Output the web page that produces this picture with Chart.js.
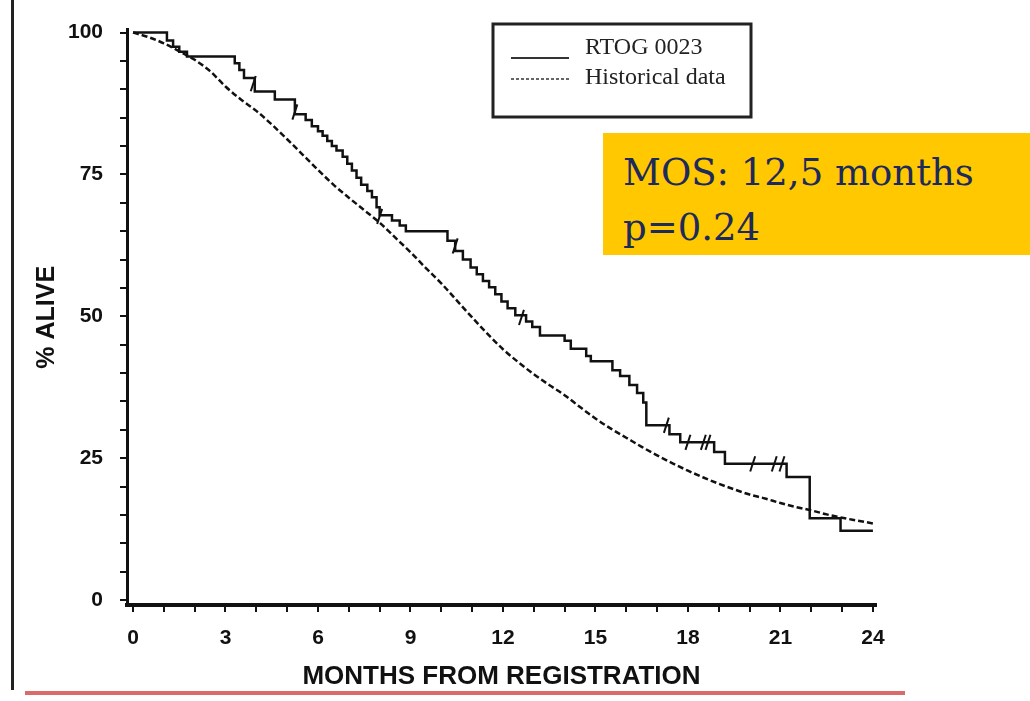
<!DOCTYPE html>
<html>
<head>
<meta charset="utf-8">
<script src="https://cdn.jsdelivr.net/npm/chart.js@4.4.1/dist/chart.umd.min.js"></script>
<style>
body { margin: 0; background: #fff; }
#wrap { position: relative; width: 1030px; height: 701px; }
#mos { position: absolute; left: 603px; top: 133px; width: 427px; height: 122px; background: #ffc800; color: #1d2a5c;
  font-family: "DejaVu Serif", serif; font-size: 37px; line-height: 55px; padding: 12px 0 0 20px; box-sizing: border-box; }
</style>
</head>
<body>
<div id="wrap">
<canvas id="km-chart" width="1030" height="701"></canvas>
<div id="mos">MOS: 12,5 months<br>p=0.24</div>
</div>
<script>
// RTOG 0023 Kaplan-Meier steps (month of drop, % alive after drop)
const rtogMonths = [0, 1.1, 1.3, 1.5, 1.75, 3.3, 3.45, 3.6, 3.95, 4.6, 5.25, 5.6, 5.8, 6.0, 6.15, 6.3, 6.45, 6.6, 6.8, 6.95,
  7.1, 7.25, 7.4, 7.6, 7.75, 7.9, 8.0, 8.4, 8.65, 8.85, 10.2, 10.45, 10.7, 10.95, 11.15, 11.35, 11.55, 11.75, 11.95, 12.15,
  12.4, 12.75, 12.95, 13.2, 14.0, 14.2, 14.7, 14.85, 15.55, 15.8, 16.1, 16.35, 16.55, 16.65, 17.4, 17.75, 18.85, 19.2,
  21.2, 21.95, 22.95, 24];
const rtogAlive = [100, 98.6, 97.5, 96.6, 95.8, 94.6, 93.4, 92.0, 89.6, 88.2, 85.6, 84.6, 83.5, 82.6, 81.8, 80.9, 80.0, 79.2, 78.1, 76.9,
  75.7, 74.4, 73.2, 72.1, 71.0, 69.2, 67.8, 66.9, 66.0, 65.0, 63.3, 61.5, 60.0, 58.6, 57.4, 56.2, 55.1, 53.9, 52.6, 51.4,
  50.2, 49.1, 48.1, 46.6, 45.7, 44.3, 43.0, 42.1, 40.5, 39.5, 37.9, 36.5, 34.8, 30.8, 29.2, 27.8, 26.1, 24.0,
  21.7, 14.4, 12.2, 12.2];

// historical comparison curve
const histMonths = [0, 0.5, 1, 1.5, 2, 2.5, 3, 3.5, 4, 4.5, 5, 5.5, 6, 6.5, 7, 7.5, 8, 8.5, 9, 9.5, 10, 10.5, 11, 11.5,
  12, 12.5, 13, 13.5, 14, 14.5, 15, 15.5, 16, 16.5, 17, 17.5, 18, 18.5, 19, 19.5, 20, 20.5, 21, 21.5, 22, 22.5, 23, 23.5, 24];
const histAlive = [100, 99.2, 98.1, 96.7, 95.2, 93.2, 90.5, 88.2, 86.2, 83.8, 81.2, 78.5, 75.8, 73.2, 70.9, 68.7, 66.5, 63.9,
  61.3, 58.5, 55.8, 52.8, 49.8, 46.9, 44.2, 41.9, 39.8, 37.9, 36.1, 34.0, 32.0, 30.2, 28.6, 27.0, 25.5, 24.1, 22.8, 21.6,
  20.5, 19.5, 18.6, 17.9, 17.1, 16.4, 15.8, 15.1, 14.5, 14.0, 13.5];

// censored patients
const censorMonths = [3.9, 5.25, 8.0, 10.45, 12.6, 17.3, 18.0, 18.5, 18.65, 20.1, 20.8, 21.05];
const censorAlive = [91.0, 86.0, 67.6, 62.4, 49.8, 30.8, 27.8, 27.8, 27.8, 24.0, 24.0, 24.0];

const xTicks = [0, 1, 2, 3, 4, 5, 6, 7, 8, 9, 10, 11, 12, 13, 14, 15, 16, 17, 18, 19, 20, 21, 22, 23, 24];
const yTicks = [0, 5, 10, 15, 20, 25, 30, 35, 40, 45, 50, 55, 60, 65, 70, 75, 80, 85, 90, 95, 100];

const toPoints = (xs, ys) => xs.map((x, i) => ({ x: x, y: ys[i] }));

// page frame: left rule and red underline
const frameLines = {
  id: 'frameLines',
  afterDraw(chart) {
    const ctx = chart.ctx;
    ctx.save();
    ctx.fillStyle = '#222';
    ctx.fillRect(11, 0, 3, 690);
    ctx.fillStyle = '#db6b6b';
    ctx.fillRect(25, 691, 880, 4);
    ctx.restore();
  }
};

// boxed legend inside the plot, drawn from the dataset labels
const boxLegend = {
  id: 'boxLegend',
  afterDraw(chart) {
    const ctx = chart.ctx;
    const lineY = [58, 79];
    const textY = [48, 78];
    ctx.save();
    ctx.strokeStyle = '#222';
    ctx.lineWidth = 3;
    ctx.strokeRect(493, 24, 258, 93);
    chart.data.datasets.slice(0, 2).forEach((ds, i) => {
      ctx.beginPath();
      ctx.setLineDash(i ? [3, 2] : []);
      ctx.lineWidth = i ? 1.5 : 2;
      ctx.strokeStyle = '#333';
      ctx.moveTo(511, lineY[i]);
      ctx.lineTo(569, lineY[i]);
      ctx.stroke();
      ctx.setLineDash([]);
      ctx.fillStyle = '#222';
      ctx.font = '24px "Liberation Serif"';
      ctx.textBaseline = 'middle';
      ctx.fillText(ds.label, 585, textY[i]);
    });
    ctx.restore();
  }
};

const tickFont = { family: 'Liberation Sans', size: 21, weight: 'bold' };

new Chart(document.getElementById('km-chart'), {
  type: 'scatter',
  data: {
    datasets: [{
      label: 'RTOG 0023',
      data: toPoints(rtogMonths, rtogAlive),
      showLine: true,
      stepped: 'before',
      borderColor: '#111',
      borderWidth: 2.5,
      pointRadius: 0
    }, {
      label: 'Historical data',
      data: toPoints(histMonths, histAlive),
      showLine: true,
      tension: 0.4,
      cubicInterpolationMode: 'monotone',
      borderColor: '#111',
      borderWidth: 2.5,
      borderDash: [6, 3],
      pointRadius: 0
    }, {
      label: 'censored',
      data: toPoints(censorMonths, censorAlive),
      showLine: false,
      pointStyle: 'line',
      rotation: -72,
      pointRadius: 8,
      pointBorderWidth: 2,
      borderColor: '#111'
    }]
  },
  options: {
    responsive: false,
    animation: false,
    devicePixelRatio: 1,
    layout: { padding: { left: 0, top: 22, right: 154, bottom: 0 } },
    plugins: { legend: { display: false }, tooltip: { enabled: false } },
    scales: {
      x: {
        type: 'linear',
        min: -0.195,
        max: 24.1,
        afterBuildTicks: (scale) => { scale.ticks = xTicks.map(v => ({ value: v })); },
        afterFit: (scale) => { scale.height = 96; },
        ticks: {
          autoSkip: false,
          maxRotation: 0,
          padding: 14,
          color: '#111',
          font: tickFont,
          callback: (v) => (v % 3 === 0 ? String(v) : '')
        },
        grid: { drawOnChartArea: false, drawTicks: true, tickLength: 7, lineWidth: 2, color: '#111' },
        border: { display: true, color: '#111', width: 4 },
        title: {
          display: true,
          text: 'MONTHS FROM REGISTRATION',
          color: '#111',
          font: { family: 'Liberation Sans', size: 26, weight: 'bold' },
          padding: { top: 0, bottom: 9 }
        }
      },
      y: {
        min: -0.87,
        max: 100.52,
        afterBuildTicks: (scale) => { scale.ticks = yTicks.map(v => ({ value: v })); },
        afterFit: (scale) => { scale.width = 127; },
        ticks: {
          autoSkip: false,
          padding: 17,
          color: '#111',
          font: tickFont,
          callback: (v) => (v % 25 === 0 ? String(v) : '')
        },
        grid: { drawOnChartArea: false, drawTicks: true, tickLength: 7, lineWidth: 2, color: '#111' },
        border: { display: true, color: '#111', width: 3 },
        title: {
          display: true,
          text: '% ALIVE',
          color: '#111',
          font: { family: 'Liberation Sans', size: 25, weight: 'bold' },
          padding: { top: 32, bottom: 0 }
        }
      }
    }
  },
  plugins: [frameLines, boxLegend]
});
</script>
</body>
</html>
